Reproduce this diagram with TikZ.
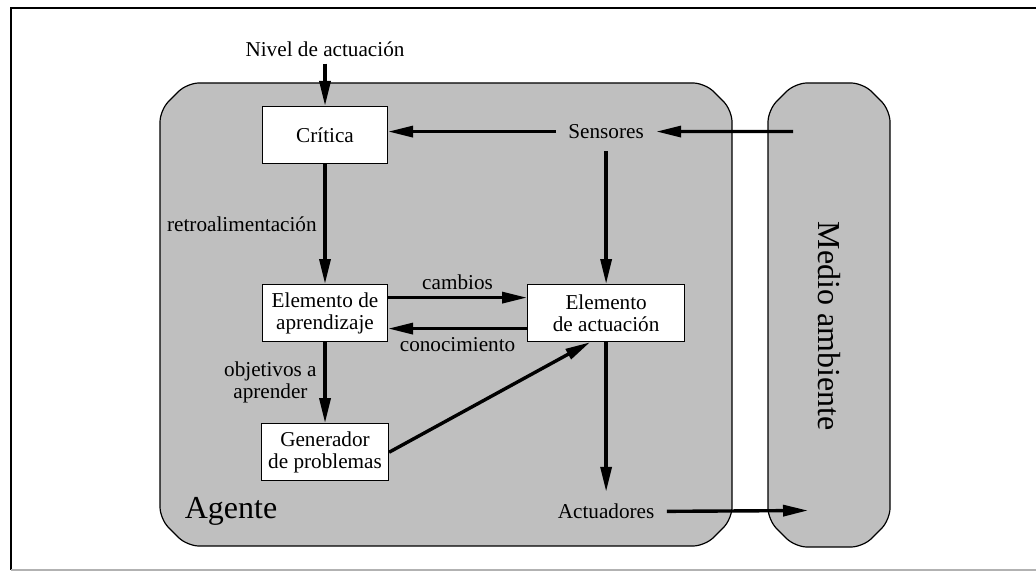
\documentclass[tikz,border=0pt]{standalone}
\usepackage{fontspec}
\setmainfont{Liberation Serif}
\usepackage{tikz}
\usetikzlibrary{arrows.meta}
\tikzstyle{bloque} = [rectangle, minimum width=62.5pt, minimum height=28.5pt, text centered, align=center, draw=black, line width=0.6pt, fill=white]
\tikzstyle{etiqueta} = [inner sep=6pt]
\tikzstyle{zona} = [draw=black, line width=0.6pt, fill=black!25, rounded corners=6pt]
\tikzstyle{grande} = [font=\fontsize{16}{19}\selectfont]
\tikzstyle{arrow} = [line width=1.7pt, -{Triangle[length=12.5pt,width=5.5pt]}]

\begin{document}
\begin{tikzpicture}[x=0.5pt, y=-0.5pt, font=\fontsize{10.6}{11}\selectfont]
		\useasboundingbox (0,0) rectangle (1036,571);
		\draw [line width=1pt] (1036,8) -- (11,8) -- (11,570);
		\draw [black!30, line width=0.8pt] (11,570) -- (1036,570);
		\draw [zona] (187,83) -- (705,83) -- (732,110) -- (732,519) -- (705,546) -- (187,546) -- (160,519) -- (160,110) -- cycle;
		\draw [zona] (795,83) -- (863,83) -- (890,110) -- (890,520) -- (863,547) -- (795,547) -- (768,520) -- (768,110) -- cycle;
		\node (critica) [bloque] at (325,135) {Crítica};
		\node (nivel) [above of = critica, yshift = 0.51cm] {Nivel de actuación};
		\node (aprendizaje) [bloque, below of = critica, yshift = -2.13cm] {Elemento de\\aprendizaje};
		\node (generador) [bloque, below of = aprendizaje, yshift = -1.445cm] {Generador\\de problemas};
		\node (actuacion) [bloque, minimum width=78.5pt, right of = aprendizaje, xshift = 3.94cm] {Elemento\\de actuación};
		\node (sensores) [etiqueta, above of = actuacion, yshift = 2.19cm] {Sensores};
		\node (actuadores) [etiqueta, below of = actuacion, yshift = -2.49cm] {Actuadores};
		\node (agente) [grande] at (231,511) {Agente};
		\node (medio) [grande, rotate=-90] at (829,326) {Medio ambiente};
		\coordinate (estimulo) at (793,131.5);
		\coordinate (accion) at (808,510.5);
		\draw [arrow] (nivel) -- (critica);
		\draw [arrow] (estimulo) -- (sensores);
		\draw [arrow] (sensores) -- (sensores -| critica.east);
		\draw [arrow] (sensores) -- (actuacion);
		\draw [arrow] (critica) -- node[left] {retroalimentación} (aprendizaje);
		\draw [arrow] ([yshift=7.75pt]aprendizaje.east) -- node[above] {cambios} ([yshift=7.75pt]aprendizaje.east -| actuacion.west);
		\draw [arrow] ([yshift=-7.75pt]actuacion.west) -- node[below] {conocimiento} ([yshift=-7.75pt]actuacion.west -| aprendizaje.east);
		\draw [arrow] (aprendizaje) -- node[left, align=center] {objetivos a\\aprender} (generador);
		\draw [arrow] (generador.east) -- ([xshift=-8pt]actuacion.south);
		\draw [arrow] (actuacion) -- (actuadores);
		\draw [arrow] (actuadores) -- (accion);
	\end{tikzpicture}
\end{document}
